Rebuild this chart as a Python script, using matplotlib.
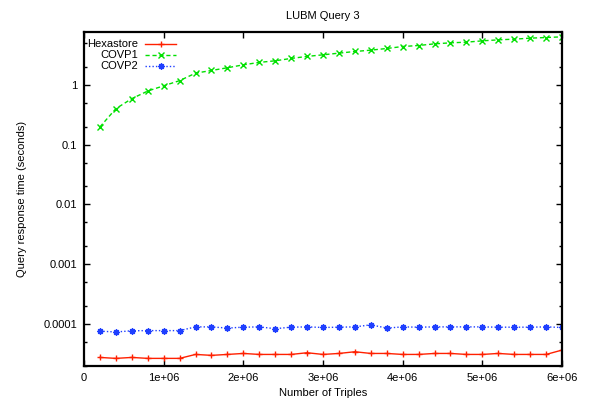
import numpy as np
import matplotlib.pyplot as plt
from matplotlib.ticker import FixedLocator, FuncFormatter, LogLocator, NullFormatter

plt.rcParams['font.family'] = ['Liberation Sans', 'DejaVu Sans']

triples = np.arange(1, 31) * 2e5

hexastore = [2.78e-5, 2.68e-5, 2.78e-5, 2.68e-5, 2.68e-5, 2.68e-5, 3.12e-5, 3.01e-5,
             3.12e-5, 3.24e-5, 3.12e-5, 3.12e-5, 3.12e-5, 3.33e-5, 3.12e-5, 3.24e-5,
             3.46e-5, 3.24e-5, 3.24e-5, 3.12e-5, 3.12e-5, 3.24e-5, 3.24e-5, 3.12e-5,
             3.12e-5, 3.24e-5, 3.12e-5, 3.12e-5, 3.12e-5, 3.69e-5]

covp1 = [0.197, 0.398, 0.585, 0.784, 0.96, 1.17, 1.56, 1.73, 1.92, 2.15,
         2.36, 2.51, 2.75, 2.97, 3.16, 3.37, 3.59, 3.78, 4.03, 4.35,
         4.52, 4.82, 5.01, 5.14, 5.41, 5.62, 5.77, 6.0, 6.15, 6.31]

covp2 = [7.64e-5, 7.4e-5, 7.75e-5, 7.8e-5, 7.8e-5, 7.8e-5, 9.0e-5, 9.0e-5,
         8.6e-5, 8.9e-5, 9.0e-5, 8.4e-5, 8.9e-5, 9.0e-5, 8.8e-5, 8.9e-5,
         9.0e-5, 9.75e-5, 8.6e-5, 9.0e-5, 8.9e-5, 9.0e-5, 9.0e-5, 9.0e-5,
         9.0e-5, 8.9e-5, 8.9e-5, 8.9e-5, 9.0e-5, 8.8e-5]

y_ticks = [1e-4, 1e-3, 1e-2, 1e-1, 1]
y_tick_labels = ['0.0001', '0.001', '0.01', '0.1', '1']

names = ['Hexastore', 'COVP1', 'COVP2']
colors = ['#ff2000', '#00e000', '#1f3fff']
styles = ['-', (0, (3, 2)), (0, (1, 1.5))]
markers = ['+', 'x', (8, 2, 0)]

fig = plt.figure(figsize=(5.91, 4.01), dpi=100)
ax = fig.add_axes([0.1421, 0.0873, 0.8089, 0.8329])

for ys, c, ls, m in zip([hexastore, covp1, covp2], colors, styles, markers):
    ax.plot(triples, ys, color=c, linestyle=ls, marker=m, markersize=4.5,
            linewidth=1, markeredgewidth=1)

ax.set_yscale('log')
ax.set_xlim(0, 6e6)
ax.set_ylim(2e-5, 7.6)

ax.xaxis.set_major_locator(FixedLocator(np.arange(0, 7) * 1e6))
ax.xaxis.set_major_formatter(FuncFormatter(lambda v, p: '0' if v == 0 else f'{v:.0e}'))
ax.yaxis.set_major_locator(FixedLocator(y_ticks))
ax.set_yticklabels(y_tick_labels)
ax.yaxis.set_minor_locator(LogLocator(base=10, subs=(2, 5)))
ax.yaxis.set_minor_formatter(NullFormatter())

ax.tick_params(which='both', direction='in', top=True, right=True, labelsize=8, pad=5)
ax.tick_params(which='major', length=4.5, width=1)
ax.tick_params(which='minor', length=2.5, width=1)
for s in ax.spines.values():
    s.set_linewidth(1.6)

ax.set_title('LUBM Query 3', fontsize=8, pad=9)
ax.set_xlabel('Number of Triples', fontsize=8, labelpad=4)
ax.set_ylabel('Query response time (seconds)', fontsize=8, labelpad=12)

# gnuplot-style key: right-aligned text followed by sample line
for i, (n, c, ls, m) in enumerate(zip(names, colors, styles, markers)):
    yk = 0.963 - i * 0.033
    ax.text(0.114, yk, n, transform=ax.transAxes, ha='right', va='center', fontsize=8)
    ax.plot([0.128, 0.193], [yk, yk], transform=ax.transAxes, color=c, linestyle=ls,
            linewidth=1, clip_on=False)
    ax.plot([0.1605], [yk], transform=ax.transAxes, color=c, marker=m, markersize=4.5,
            markeredgewidth=1, clip_on=False)

fig.savefig('out.png', dpi=100)
